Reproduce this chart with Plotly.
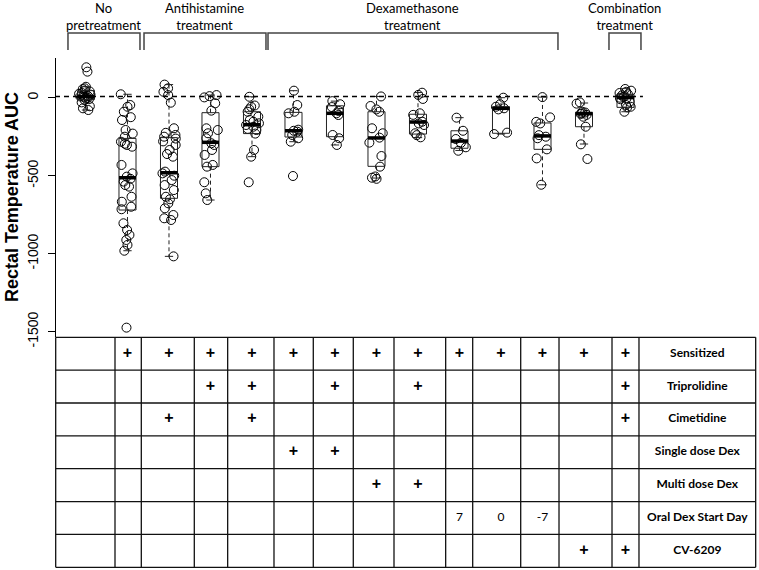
import plotly.graph_objects as go

# ---- values ----
GROUPS = list(range(1, 15))

g01 = [195, 167, 70, 60, 55, 45, 40, 30, 25, 20, 15, 10, 8, 5, 0, -5, -10, -15, -30, -55, -68, -79]
g02 = [22, -47, -58, -90, -125, -143, -207, -230, -250, -282, -295, -303, -314, -431, -485, -506,
       -520, -538, -560, -570, -635, -667, -699, -715, -805, -848, -880, -912, -944, -981, -1474]
g03 = [84, 60, 38, 17, -32, -196, -225, -239, -250, -262, -280, -303, -335, -361, -378, -474, -485,
       -500, -528, -560, -592, -635, -651, -677, -709, -752, -773, -784, -1017]
g04 = [17, 10, 2, -36, -83, -196, -207, -228, -260, -292, -303, -335, -367, -431, -442, -542, -613, -656]
g05 = [6, -50, -58, -74, -90, -122, -143, -154, -164, -175, -186, -200, -207, -230, -335, -378, -542]
g06 = [45, -47, -90, -100, -205, -212, -218, -239, -260, -282, -502]
g07 = [-22, -42, -60, -85, -100, -111, -239, -260, -303]
g08 = [8, -53, -75, -90, -196, -228, -256, -288, -374, -442, -505, -513, -520]
g09 = [32, 18, -8, -100, -110, -154, -165, -175, -228, -240, -254]
g10 = [-128, -212, -265, -290, -318, -340]
g11 = [0, -42, -58, -68, -75, -224, -233]
g12 = [4, -126, -155, -165, -240, -250, -260, -331, -389, -558]
g13 = [-30, -38, -90, -95, -100, -104, -110, -122, -186, -299, -393]
g14 = [56, 45, 38, 30, 22, 15, 5, 0, -4, -10, -26, -47, -58, -62, -90]
VALUES = [g01, g02, g03, g04, g05, g06, g07, g08, g09, g10, g11, g12, g13, g14]

# box statistics as drawn
Q1 = [-12, -720, -645, -442, -230, -252, -250, -440, -233, -324, -228, -331, -186, -62]
MEDIAN = [8, -513, -481, -286, -173, -212, -100, -258, -156, -278, -68, -245, -102, 1]
Q3 = [45, -261, -256, -96, -90, -94, -52, -90, -106, -212, -58, -162, -94, 22]
WHISK_LO = [-79, -981, -1017, -656, -378, -282, -303, -515, -256, -338, -233, -558, -297, -90]
WHISK_HI = [70, 22, 84, 17, 6, 45, -22, 8, 33, -128, 0, 4, -34, 58]

ROW_LABELS = ["Sensitized", "Triprolidine", "Cimetidine", "Single dose Dex",
              "Multi dose Dex", "Oral Dex Start Day", "CV-6209"]
SENSITIZED = ["", "+", "+", "+", "+", "+", "+", "+", "+", "+", "+", "+", "+", "+"]
TRIPROLIDINE = ["", "", "", "+", "+", "", "+", "", "+", "", "", "", "", "+"]
CIMETIDINE = ["", "", "+", "", "+", "", "", "", "", "", "", "", "", "+"]
SINGLE_DEX = ["", "", "", "", "", "+", "+", "", "", "", "", "", "", ""]
MULTI_DEX = ["", "", "", "", "", "", "", "+", "+", "", "", "", "", ""]
ORAL_DAY = ["", "", "", "", "", "", "", "", "", "7", "0", "-7", "", ""]
CV6209 = ["", "", "", "", "", "", "", "", "", "", "", "", "+", "+"]
TABLE = [SENSITIZED, TRIPROLIDINE, CIMETIDINE, SINGLE_DEX, MULTI_DEX, ORAL_DAY, CV6209]

BRACKET_TEXT = ["No<br>pretreatment", "Antihistamine<br>treatment",
                "Dexamethasone<br>treatment", "Combination<br>treatment"]

# ---- layout constants ----
W, H = 759, 570
X_RANGE = [-1.072, 17.217]
BOX_HW = 0.205
STAPLE_HW = 0.1
COL_EDGES = [0.270, 1.699, 2.333, 3.610, 4.414, 5.530, 6.477, 7.441, 8.422,
             9.667, 10.318, 11.475, 12.398, 13.675, 14.325, 17.137]
LABEL_X = 15.731
BRACKET_SPANS = [(0.566, 2.301), (2.398, 5.337), (5.386, 12.373), (13.602, 14.373)]
REF_X = [0.253, 14.42]
FONT_T = "Lato, Open Sans, sans-serif"
FONT_A = "Liberation Sans, Arial, sans-serif"

fig = go.Figure()

# boxes drawn R style
bx, by, mx, my, wx, wy, sx, sy = [], [], [], [], [], [], [], []
for g, lo, q1, md, q3, hi in zip(GROUPS, WHISK_LO, Q1, MEDIAN, Q3, WHISK_HI):
    bx += [g - BOX_HW, g + BOX_HW, g + BOX_HW, g - BOX_HW, g - BOX_HW, None]
    by += [q1, q1, q3, q3, q1, None]
    mx += [g - BOX_HW, g + BOX_HW, None]
    my += [md, md, None]
    wx += [g, g, None, g, g, None]
    wy += [q3, hi, None, q1, lo, None]
    sx += [g - STAPLE_HW, g + STAPLE_HW, None, g - STAPLE_HW, g + STAPLE_HW, None]
    sy += [hi, hi, None, lo, lo, None]

fig.add_trace(go.Scatter(x=wx, y=wy, mode="lines", line=dict(color="#222", width=1, dash="4px,3px")))
fig.add_trace(go.Scatter(x=sx, y=sy, mode="lines", line=dict(color="#222", width=1)))
fig.add_trace(go.Scatter(x=bx, y=by, mode="lines", line=dict(color="#222", width=1)))
fig.add_trace(go.Scatter(x=mx, y=my, mode="lines", line=dict(color="black", width=3.5)))

# jittered points (box itself hidden, only its points shown)
px_, py_ = [], []
for g, vals in zip(GROUPS, VALUES):
    px_ += [g] * len(vals)
    py_ += vals
fig.add_trace(go.Box(
    x=px_, y=py_, boxpoints="all", jitter=0.9, pointpos=0, width=0.42,
    fillcolor="rgba(0,0,0,0)", line=dict(color="rgba(0,0,0,0)", width=0),
    marker=dict(symbol="circle-open", size=9, color="black", line=dict(width=1, color="black")),
))

# reference line at control median
fig.add_shape(type="line", xref="x", yref="y", x0=REF_X[0], x1=REF_X[1],
              y0=MEDIAN[0], y1=MEDIAN[0], line=dict(color="black", width=1.5, dash="5px,4px"))

# treatment table
for r, row in enumerate(TABLE):
    is_num = any(c not in ("", "+") for c in row)
    fig.add_trace(go.Scatter(
        x=GROUPS, y=[r] * len(GROUPS), yaxis="y2", mode="text",
        text=row if is_num else ["<b>%s</b>" % c if c else "" for c in row],
        textfont=dict(family=FONT_T if is_num else FONT_A, size=12 if is_num else 16, color="black"),
    ))
fig.add_trace(go.Scatter(
    x=[LABEL_X] * len(ROW_LABELS), y=list(range(len(ROW_LABELS))), yaxis="y2", mode="text",
    text=["<b>%s</b>" % s for s in ROW_LABELS],
    textfont=dict(family=FONT_T, size=12, color="black"),
))
for k in range(len(ROW_LABELS) + 1):
    fig.add_shape(type="line", xref="x", yref="y2", x0=COL_EDGES[0], x1=COL_EDGES[-1],
                  y0=k - 0.5, y1=k - 0.5, line=dict(color="#111", width=1.3))
for e in COL_EDGES:
    fig.add_shape(type="line", xref="x", yref="y2", x0=e, x1=e,
                  y0=-0.5, y1=len(ROW_LABELS) - 0.5, line=dict(color="#111", width=1.3))

# group brackets on top
yb, yt = 1 - 50 / H, 1 - 33 / H
for (x0, x1), txt in zip(BRACKET_SPANS, BRACKET_TEXT):
    fig.add_shape(type="path", xref="x", yref="paper",
                  path=f"M {x0},{yb} L {x0},{yt} L {x1},{yt} L {x1},{yb}",
                  line=dict(color="#444", width=1.5))
    fig.add_annotation(x=(x0 + x1) / 2, y=1 - 16.5 / H, xref="x", yref="paper", text=txt,
                       showarrow=False, yanchor="middle",
                       font=dict(family=FONT_T, size=13, color="black"))

fig.add_annotation(x=12 / W, y=1 - 197 / H, xref="paper", yref="paper", xanchor="center",
                   text="<b>Rectal Temperature AUC</b>", textangle=-90, showarrow=False,
                   font=dict(family=FONT_A, size=18, color="black"))

fig.update_layout(
    width=W, height=H, margin=dict(l=0, r=0, t=0, b=0, pad=0), autosize=False,
    paper_bgcolor="white", plot_bgcolor="rgba(0,0,0,0)", showlegend=False,
    xaxis=dict(range=X_RANGE, domain=[0, 1], visible=False, fixedrange=True, automargin=False),
    yaxis=dict(domain=[1 - 337 / H, 1 - 58 / H], range=[-1534, 254.5], automargin=False,
               anchor="free", position=55 / W, showline=True, linecolor="black", linewidth=1,
               ticks="outside", ticklen=7, tickcolor="black",
               tickvals=[0, -500, -1000, -1500], ticktext=["0", "-500", "-1000", "-1500"],
               tickangle=-90, tickfont=dict(family=FONT_A, size=14, color="black"),
               showgrid=False, zeroline=False, ticklabelstandoff=4),
    yaxis2=dict(domain=[0, 1], range=[6.582, -10.764], anchor="x", visible=False, automargin=False),
)

fig.write_html("out.html", config={"displayModeBar": False},
               post_script="document.body.style.margin='0';")
